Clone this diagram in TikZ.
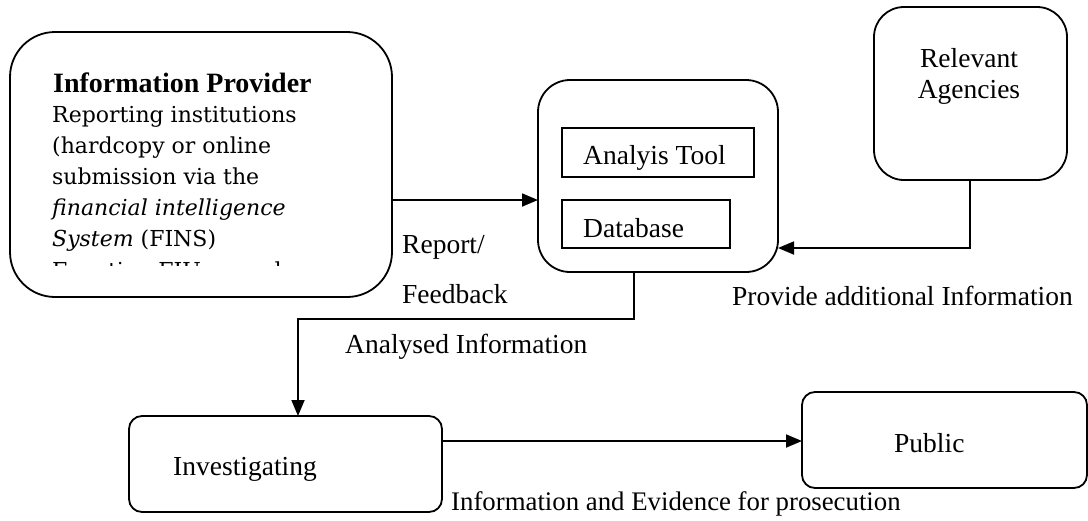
\documentclass[tikz,border=0pt]{standalone}
\usepackage{fontspec}
\setmainfont{Liberation Serif}
\newfontfamily\bodyfont{DejaVu Serif}
\usetikzlibrary{arrows.meta}
\begin{document}
\begin{tikzpicture}[x=1pt,y=-1pt,
  box/.style={draw,line width=1.8pt,rounded corners=#1,inner sep=0pt,outer sep=0pt},
  box/.default=12pt,
  sqbox/.style={draw,line width=1.8pt,inner sep=0pt,outer sep=0pt},
  lbl/.style={anchor=base west,inner sep=0pt,font=\fontsize{27.5}{30}\selectfont},
  clbl/.style={lbl,anchor=base},
  body/.style={anchor=base west,inner sep=0pt,font=\bodyfont\fontsize{22}{26}\selectfont},
  conn/.style={line width=1.8pt,-{Triangle[length=16pt,width=13pt]}},
  ]
\useasboundingbox (0,0) rectangle (1088,520);
% boxes
\node[box=45pt,minimum width=382pt,minimum height=265pt] (ip) at (201,164.5) {};
\node[box=32pt,minimum width=240pt,minimum height=192pt] (an) at (658,176) {};
\node[sqbox,minimum width=192pt,minimum height=49pt] (tool) at (658,152.5) {};
\node[sqbox,minimum width=168pt,minimum height=48pt] (db) at (646,224) {};
\node[box=30pt,minimum width=193pt,minimum height=173pt] (ra) at (970.5,93.5) {};
\node[box=13pt,minimum width=313pt,minimum height=96pt] (inv) at (285.5,464) {};
\node[box=13pt,minimum width=285pt,minimum height=96pt] (pub) at (944.5,440) {};
% texts in boxes
\node[lbl,font=\bfseries\fontsize{28}{30}\selectfont] (iptitle) at (53,92) {Information Provider};
\node[body] (ip1) at (52,122) {Reporting institutions};
\node[body] (ip2) at (52,153) {(hardcopy or online};
\node[body] (ip3) at (52,184) {submission via the};
\node[body] (ip4) at (52,215) {\itshape financial intelligence};
\node[body] (ip5) at (52,246) {{\itshape System} (FINS)};
\begin{scope}
\clip (20,250) rectangle (380,265.5);
\node[body] (ip6) at (52,278) {Function FIU records};
\end{scope}
\node[lbl] (tooltxt) at (583,164) {Analyis Tool};
\node[lbl] (dbtxt) at (583,237) {Database};
\node[clbl] (ra1) at (969,67) {Relevant};
\node[clbl] (ra2) at (969,98) {Agencies};
\node[lbl] (invtxt) at (173,475) {Investigating};
\node[lbl] (pubtxt) at (894,452) {Public};
% connectors
\coordinate (a1) at (0,200);
\draw[conn] (ip.east |- a1) -- (an.west |- a1);
\coordinate (k1) at (634,319);
\coordinate (k2) at (298,319);
\draw[conn] (an.south -| k1) -- (k1) -- (k2) -- (inv.north -| k2);
\coordinate (k3) at (970,248);
\draw[conn] (ra.south -| k3) -- (k3) -- (an.east |- k3);
\coordinate (k4) at (0,441);
\draw[conn] (inv.east |- k4) -- (pub.west |- k4);
% connector labels
\node[lbl] (rep1) at (402,253) {Report/};
\node[lbl] (rep2) at (402,303) {Feedback};
\node[lbl] (anl) at (345,353) {Analysed Information};
\node[lbl] (prov) at (732,305) {Provide additional Information};
\node[lbl,font=\fontsize{26.8}{30}\selectfont] (evid) at (451,510) {Information and Evidence for prosecution};
\end{tikzpicture}
\end{document}
